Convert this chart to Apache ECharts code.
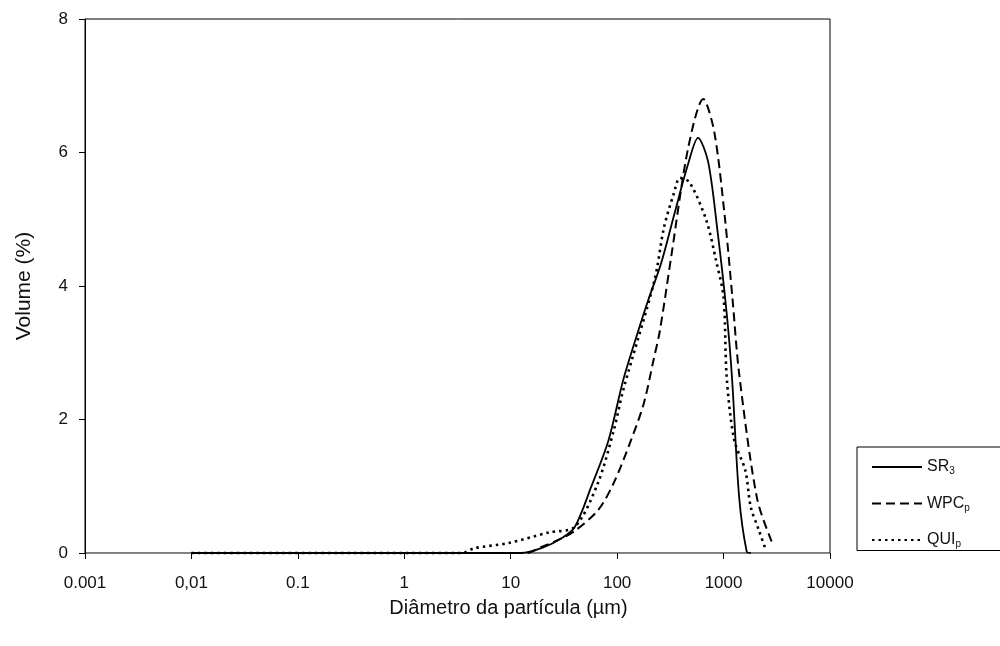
<!DOCTYPE html>
<html>
<head>
<meta charset="utf-8">
<script src="https://cdn.jsdelivr.net/npm/echarts@6/dist/echarts.min.js"></script>
<style>
  html, body { margin: 0; padding: 0; background: #fff; }
  #chart { width: 1000px; height: 646px; }
</style>
</head>
<body>
<div id="chart"></div>
<script>
// tick labels of the log axis (one per decade, 0.001 .. 10000)
var xTickLabels = ['0.001', '0,01', '0.1', '1', '10', '100', '1000', '10000'];

// SR3 (solid)
var sr3X = [0.01, 1, 8, 12.5, 20, 30, 40, 57, 83, 114, 158, 195, 260, 345, 465, 575, 714, 870, 1070, 1200, 1400, 1650, 1800];
var sr3Y = [0, 0, 0, 0, 0.08, 0.22, 0.39, 0.99, 1.69, 2.59, 3.33, 3.78, 4.35, 5.08, 5.83, 6.22, 5.87, 4.87, 3.59, 2.63, 0.84, 0.02, 0];

// WPCp (dashed)
var wpcX = [0.01, 1, 10, 14, 19.5, 30, 40, 66, 93, 135, 178, 219, 252, 325, 465, 645, 815, 1020, 1210, 1400, 2050, 2800, 3000];
var wpcY = [0, 0, 0, 0, 0.09, 0.22, 0.33, 0.64, 1.05, 1.69, 2.24, 2.88, 3.33, 4.48, 6.07, 6.8, 6.32, 5.08, 3.83, 2.69, 0.84, 0.19, 0.15];

// QUIp (dotted)
var quiX = [0.01, 1, 3.5, 4.5, 9.6, 23, 40, 66, 93, 114, 224, 275, 340, 390, 480, 690, 850, 1000, 1070, 1260, 1600, 1800, 2150, 2500];
var quiY = [0, 0, 0, 0.07, 0.15, 0.31, 0.39, 1.05, 1.84, 2.44, 4.08, 4.87, 5.38, 5.62, 5.55, 4.98, 4.38, 3.83, 2.63, 1.69, 1.24, 0.69, 0.34, 0.04];

function pairs(xs, ys) {
    var out = [];
    for (var i = 0; i < xs.length; i++) {
        out.push([xs[i], ys[i]]);
    }
    return out;
}

var chart = echarts.init(document.getElementById('chart'));
var font = 'Liberation Sans, Arial, sans-serif';

var option = {
    animation: false,
    backgroundColor: '#fff',
    grid: {
        left: 85,
        right: 170,
        top: 19,
        bottom: 93,
        show: true,
        borderColor: '#000',
        borderWidth: 1
    },
    legend: {
        orient: 'vertical',
        left: 857,
        top: 447,
        padding: [12, 60, 1, 14],
        itemGap: 19,
        itemWidth: 50,
        itemHeight: 12,
        borderColor: '#000',
        borderWidth: 1,
        itemStyle: { opacity: 0 },
        data: ['SR3', 'WPCp', 'QUIp'],
        formatter: function (name) {
            return '{n|' + name.slice(0, -1) + '}{s|' + name.slice(-1) + '}';
        },
        textStyle: {
            fontFamily: font,
            color: '#111',
            rich: {
                n: { fontSize: 16, fontFamily: font, color: '#111' },
                s: { fontSize: 10, fontFamily: font, color: '#111', verticalAlign: 'bottom', padding: [9, 0, 0, 0] }
            }
        }
    },
    xAxis: {
        type: 'log',
        logBase: 10,
        min: 0.001,
        max: 10000,
        z: 0,
        name: 'Diâmetro da partícula (µm)',
        nameLocation: 'middle',
        nameGap: 45,
        nameTextStyle: { fontFamily: font, fontSize: 20, color: '#111', padding: [0, 0, 0, 102] },
        axisLine: { lineStyle: { color: '#888', width: 1 } },
        axisTick: { show: true, inside: false, length: 6, lineStyle: { color: '#000' } },
        minorTick: { show: false },
        splitLine: { show: false },
        axisLabel: {
            fontFamily: font,
            fontSize: 17,
            color: '#111',
            margin: 22,
            formatter: function (v) {
                var k = Math.round(Math.log10(v)) + 3;
                return xTickLabels[k] !== undefined ? xTickLabels[k] : '';
            }
        }
    },
    yAxis: {
        type: 'value',
        min: 0,
        max: 8,
        interval: 2,
        name: 'Volume (%)',
        nameLocation: 'middle',
        nameGap: 50,
        nameTextStyle: { fontFamily: font, fontSize: 21, color: '#111' },
        axisLine: { show: true, lineStyle: { color: '#000', width: 1 } },
        axisTick: { show: true, inside: false, length: 6, lineStyle: { color: '#000' } },
        splitLine: { show: false },
        axisLabel: { fontFamily: font, fontSize: 17, color: '#111', margin: 17 }
    },
    series: [{
        name: 'SR3',
        type: 'line',
        symbol: 'none',
        smooth: 0.3,
        clip: false,
        z: 3,
        lineStyle: { color: '#000', width: 1.8, type: 'solid' },
        itemStyle: { color: '#000' },
        data: pairs(sr3X, sr3Y)
    }, {
        name: 'WPCp',
        type: 'line',
        symbol: 'none',
        smooth: 0.3,
        clip: false,
        z: 3,
        lineStyle: { color: '#000', width: 2, type: [9, 5] },
        itemStyle: { color: '#000' },
        data: pairs(wpcX, wpcY)
    }, {
        name: 'QUIp',
        type: 'line',
        symbol: 'none',
        smooth: 0.3,
        clip: false,
        z: 3,
        lineStyle: { color: '#000', width: 2.6, type: [2.5, 4] },
        itemStyle: { color: '#000' },
        data: pairs(quiX, quiY)
    }]
};

option && chart.setOption(option);
</script>
</body>
</html>
